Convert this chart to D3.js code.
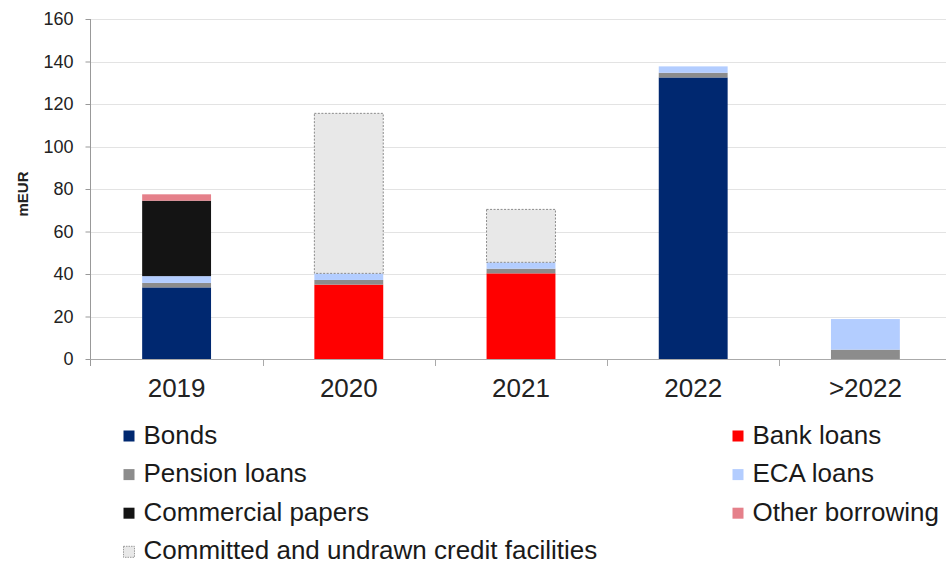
<!DOCTYPE html>
<html>
<head>
<meta charset="utf-8">
<script src="https://cdn.jsdelivr.net/npm/d3@7"></script>
<style>
  html, body { margin: 0; padding: 0; background: #fff; }
  svg { display: block; font-family: "Liberation Sans", Arial, sans-serif; }
</style>
</head>
<body>
<svg id="chart" width="946" height="564"></svg>
<script>
const categories = ["2019", "2020", "2021", "2022", ">2022"];
const seriesNames = ["Bonds", "Bank loans", "Pension loans", "ECA loans", "Commercial papers", "Other borrowing", "Committed and undrawn credit facilities"];
const bonds      = [33.7, 0, 0, 132.5, 0];
const bankLoans  = [0, 35, 40.3, 0, 0];
const pension    = [2.1, 2.2, 2.2, 2.2, 4.4];
const eca        = [3.2, 3.1, 3.0, 3.0, 14.4];
const commercial = [35.5, 0, 0, 0, 0];
const other      = [3.0, 0, 0, 0, 0];
const committed  = [0, 75.3, 24.9, 0, 0];
const yTicks = [0, 20, 40, 60, 80, 100, 120, 140, 160];
const colors = ["#002870", "#ff0000", "#8c8c8c", "#b3cdff", "#141414", "#e5808a", "#e8e8e8"];

const seriesValues = [bonds, bankLoans, pension, eca, commercial, other, committed];
const table = categories.map((c, i) => {
  const row = { cat: c };
  seriesNames.forEach((s, j) => row[s] = seriesValues[j][i]);
  return row;
});

const svg = d3.select("#chart");
const pLeft = 90.5, pRight = 951.5, pTop = 19, pBottom = 359;

const x = d3.scaleBand().domain(categories).range([pLeft, pRight]).paddingInner(0.6).paddingOuter(0.3);
const y = d3.scaleLinear().domain([0, 160]).range([pBottom, pTop]);

// gridlines
svg.append("g").selectAll("line").data(yTicks.filter(d => d > 0)).join("line")
  .attr("x1", pLeft).attr("x2", 946)
  .attr("y1", d => Math.round(y(d)) + 0.5).attr("y2", d => Math.round(y(d)) + 0.5)
  .attr("stroke", "#e3e3e3").attr("stroke-width", 1);

// stacked bars
const stack = d3.stack().keys(seriesNames)(table);
const layers = svg.append("g").selectAll("g").data(stack).join("g")
  .attr("fill", (d, i) => colors[i]);
layers.each(function(layer, li) {
  d3.select(this).selectAll("rect").data(layer.filter(d => d[1] - d[0] > 0)).join("rect")
    .attr("x", d => x(d.data.cat))
    .attr("width", x.bandwidth())
    .attr("y", d => y(d[1]))
    .attr("height", d => y(d[0]) - y(d[1]))
    .attr("stroke", li === 6 ? "#8a8a8a" : "none")
    .attr("stroke-width", li === 6 ? 1 : 0)
    .attr("stroke-dasharray", li === 6 ? "2,1.5" : null);
});

// y axis
const yAxis = d3.axisLeft(y).tickValues(yTicks).tickSize(5).tickPadding(12);
const gy = svg.append("g").attr("transform", `translate(${pLeft},0)`).call(yAxis);
gy.select(".domain").attr("stroke", "#999").attr("d", `M0,${pBottom + 7}V${pTop}`);
gy.selectAll(".tick line").attr("stroke", "#999");
gy.selectAll(".tick text").attr("font-size", 18).attr("fill", "#222")
  .attr("font-family", "Liberation Sans, Arial, sans-serif");

// x axis
const xAxis = d3.axisBottom(x).tickSize(0).tickPadding(20);
const gx = svg.append("g").attr("transform", `translate(0,${pBottom})`).call(xAxis);
gx.select(".domain").attr("stroke", "#aaa").attr("d", `M${pLeft},0.5H946`);
gx.selectAll(".tick text").attr("font-size", 26).attr("fill", "#222")
  .attr("font-family", "Liberation Sans, Arial, sans-serif");
// category boundary ticks
const boundaries = categories.map(c => x(c) - x.step() * x.paddingOuter()).concat([pRight]);
svg.append("g").selectAll("line").data(boundaries.slice(1)).join("line")
  .attr("x1", d => Math.round(d) + 0.5).attr("x2", d => Math.round(d) + 0.5)
  .attr("y1", pBottom).attr("y2", pBottom + 7).attr("stroke", "#aaa");

// y label
svg.append("text").attr("transform", `translate(28,194) rotate(-90)`)
  .attr("text-anchor", "middle").attr("font-size", 15).attr("font-weight", "bold")
  .attr("fill", "#222").text("mEUR");

// legend
const legendItems = [
  { name: "Bonds", col: 0, row: 0 },
  { name: "Bank loans", col: 1, row: 0 },
  { name: "Pension loans", col: 0, row: 1 },
  { name: "ECA loans", col: 1, row: 1 },
  { name: "Commercial papers", col: 0, row: 2 },
  { name: "Other borrowing", col: 1, row: 2 },
  { name: "Committed and undrawn credit facilities", col: 0, row: 3 }
];
const colX = [123.5, 732.5];
const lg = svg.append("g").selectAll("g").data(legendItems).join("g")
  .attr("transform", d => `translate(${colX[d.col]},${430.5 + d.row * 38.6})`);
lg.append("rect").attr("width", 11).attr("height", 11)
  .attr("fill", d => colors[seriesNames.indexOf(d.name)])
  .attr("stroke", d => d.name.startsWith("Committed") ? "#999" : "none")
  .attr("stroke-dasharray", "1.5,1");
lg.append("text").attr("x", 20).attr("y", 13).attr("font-size", 26).attr("fill", "#1a1a1a")
  .text(d => d.name);
</script>
</body>
</html>
